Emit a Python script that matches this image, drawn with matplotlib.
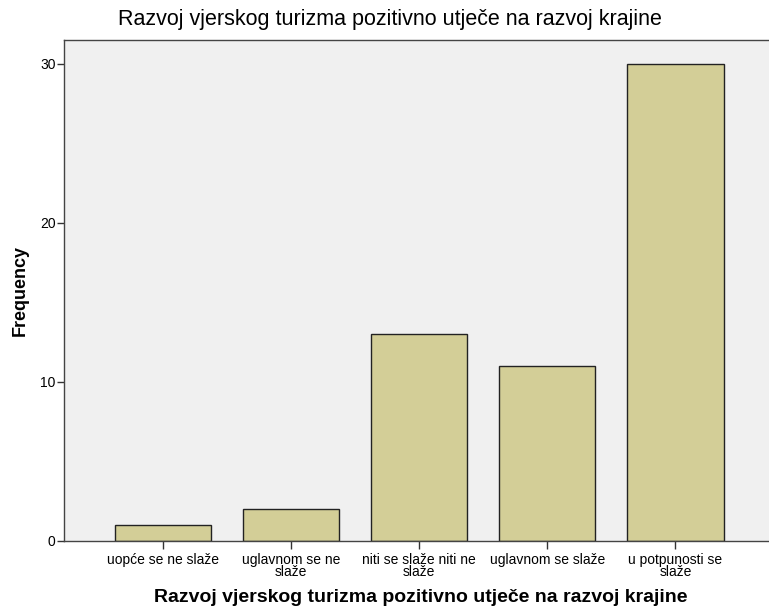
import matplotlib
matplotlib.use("Agg")
from matplotlib import pyplot as plt

categories = ["uopće se ne slaže", "uglavnom se ne\nslaže", "niti se slaže niti ne\nslaže",
              "uglavnom se slaže", "u potpunosti se\nslaže"]
frequency = [1, 2, 13, 11, 30]
title = "Razvoj vjerskog turizma pozitivno utječe na razvoj krajine"

plt.rcParams['font.family'] = ['Liberation Sans', 'DejaVu Sans']

fig = plt.figure(figsize=(7.69, 6.13), dpi=100)
# axes runs off the right edge of the picture, like the original export
ax = fig.add_axes([0.0832, 0.1175, 0.9268, 0.8172])
ax.set_facecolor("#f0f0f0")

x = range(len(categories))
ax.bar(x, frequency, width=0.75, color="#d3ce97", edgecolor="#222222", linewidth=1.0, zorder=2)

ax.set_xlim(-0.773, len(categories) - 1 + 0.79)
ax.set_ylim(0, 31.5)
ax.set_yticks([0, 10, 20, 30])
ax.set_xticks(list(x))
ax.set_xticklabels(categories, fontsize=10, linespacing=0.8)
ax.tick_params(axis="y", labelsize=10, length=5, width=1, pad=1, color="#333333")
ax.tick_params(axis="x", length=6, width=1, pad=3, color="#333333")

for side in ["left", "bottom", "top", "right"]:
    ax.spines[side].set_color("#444444")
    ax.spines[side].set_linewidth(1.0)

ax.set_ylabel("Frequency", fontsize=13, fontweight="bold", labelpad=8)
ax.set_xlabel(title, fontsize=14, fontweight="bold", labelpad=7)
fig.text(390 / 769, 1 - 20 / 613, title, fontsize=15.5, ha="center", va="center")

fig.savefig("out.png", dpi=100)
